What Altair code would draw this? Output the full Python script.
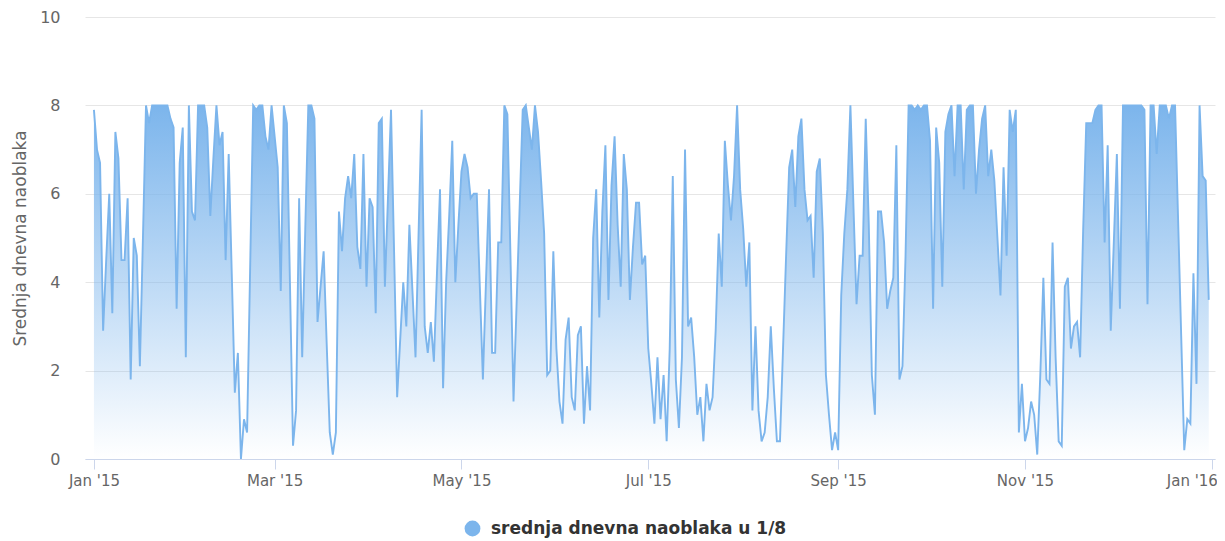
import altair as alt
import pandas as pd

series_name = "srednja dnevna naoblaka u 1/8"
y_title = "Srednja dnevna naoblaka"

dates = pd.date_range("2015-01-01", periods=365, freq="D").strftime("%Y-%m-%d").tolist()

values = [
    7.9, 7.0, 6.7, 2.9, 4.5, 6.0, 3.3, 7.4, 6.8, 4.5,
    4.5, 5.9, 1.8, 5.0, 4.6, 2.1, 5.0, 8.0, 7.6, 8.0,
    8.0, 8.0, 8.0, 8.0, 8.0, 7.7, 7.5, 3.4, 6.7, 7.5,
    2.3, 8.0, 5.6, 5.4, 8.0, 8.0, 8.0, 7.5, 5.5, 6.8,
    8.0, 7.1, 7.4, 4.5, 6.9, 4.2, 1.5, 2.4, 0.0, 0.9,
    0.6, 4.3, 8.0, 7.9, 8.0, 8.0, 7.3, 7.0, 8.0, 7.3,
    6.6, 3.8, 8.0, 7.6, 4.0, 0.3, 1.1, 5.9, 2.3, 5.2,
    8.0, 8.0, 7.7, 3.1, 3.9, 4.7, 2.6, 0.6, 0.1, 0.6,
    5.6, 4.7, 5.9, 6.4, 5.9, 6.9, 4.8, 4.3, 6.9, 3.9,
    5.9, 5.7, 3.3, 7.6, 7.7, 3.9, 5.9, 7.9, 4.7, 1.4,
    2.7, 4.0, 3.0, 5.3, 3.8, 2.3, 5.1, 7.9, 3.0, 2.4,
    3.1, 2.2, 4.2, 6.1, 1.6, 4.0, 5.5, 7.2, 4.0, 5.3,
    6.5, 6.9, 6.6, 5.9, 6.0, 6.0, 3.9, 1.8, 4.0, 6.1,
    2.4, 2.4, 4.9, 4.9, 8.0, 7.8, 4.6, 1.3, 3.5, 5.7,
    7.9, 8.0, 7.5, 7.0, 8.0, 7.4, 6.3, 5.1, 1.9, 2.0,
    4.7, 2.5, 1.3, 0.8, 2.7, 3.2, 1.4, 1.1, 2.8, 3.0,
    0.8, 2.1, 1.1, 5.0, 6.1, 3.2, 5.6, 7.1, 3.6, 6.2,
    7.3, 5.3, 3.9, 6.9, 6.1, 3.6, 4.8, 5.8, 5.8, 4.4,
    4.6, 2.5, 1.7, 0.8, 2.3, 0.9, 1.9, 0.4, 2.5, 6.4,
    1.8, 0.7, 2.3, 7.0, 3.0, 3.2, 2.3, 1.0, 1.4, 0.4,
    1.7, 1.1, 1.4, 2.9, 5.1, 3.9, 7.2, 6.2, 5.4, 6.4,
    8.0, 6.1, 5.2, 3.9, 4.9, 1.1, 3.0, 1.1, 0.4, 0.6,
    1.4, 3.0, 1.6, 0.4, 0.4, 2.5, 4.6, 6.6, 7.0, 5.7,
    7.3, 7.7, 6.1, 5.4, 5.5, 4.1, 6.5, 6.8, 5.1, 1.9,
    1.0, 0.2, 0.6, 0.2, 3.7, 5.1, 6.1, 8.0, 5.7, 3.5,
    4.6, 4.6, 7.7, 5.3, 1.9, 1.0, 5.6, 5.6, 4.9, 3.4,
    3.8, 4.1, 7.1, 1.8, 2.1, 4.6, 8.0, 8.0, 7.9, 8.0,
    7.9, 8.0, 8.0, 7.2, 3.4, 7.5, 6.7, 3.9, 7.4, 7.8,
    8.0, 6.4, 8.0, 8.0, 6.1, 7.9, 8.0, 8.0, 6.0, 7.0,
    7.7, 8.0, 6.4, 7.0, 6.3, 5.0, 3.7, 6.6, 4.6, 7.9,
    7.4, 7.9, 0.6, 1.7, 0.4, 0.7, 1.3, 1.0, 0.1, 1.9,
    4.1, 1.8, 1.7, 4.9, 2.3, 0.4, 0.3, 3.9, 4.1, 2.5,
    3.0, 3.1, 2.3, 5.2, 7.6, 7.6, 7.6, 7.9, 8.0, 8.0,
    4.9, 7.1, 2.9, 4.9, 6.9, 3.4, 8.0, 8.0, 8.0, 8.0,
    8.0, 8.0, 8.0, 7.9, 3.5, 8.0, 8.0, 6.9, 8.0, 8.0,
    8.0, 7.7, 8.0, 8.0, 5.4, 2.8, 0.2, 0.9, 0.8, 4.2,
    1.7, 8.0, 6.4, 6.3, 3.6,
]

tick_months = [(2015, 1), (2015, 3), (2015, 5), (2015, 7), (2015, 9), (2015, 11), (2016, 1)]
y_ticks = [0, 2, 4, 6, 8, 10]

df = pd.DataFrame({"date": dates, "value": values, "series": series_name})

FONT = "DejaVu Sans"
BLUE = "#7cb5ec"

x_enc = alt.X(
    "date:T",
    title=None,
    scale=alt.Scale(
        type="utc",
        domain=[
            alt.DateTime(year=2014, month=12, date=29, hours=2, utc=True),
            alt.DateTime(year=2016, month=1, date=2, hours=1, utc=True),
        ],
    ),
    axis=alt.Axis(
        values=[alt.DateTime(year=y, month=m, date=1, utc=True) for y, m in tick_months],
        labelExpr="utcFormat(datum.value, \"%b '%y\")",
        grid=False,
        domainColor="#ccd6eb",
        tickColor="#ccd6eb",
        tickSize=10,
        labelColor="#666666",
        labelFont=FONT,
        labelFontSize=15,
        labelPadding=4,
        labelFlush=False,
        labelOverlap=False,
        labelOffset={"condition": {"test": "utcyear(datum.value) == 2016", "value": -20}, "value": 0},
    ),
)

y_enc = alt.Y(
    "value:Q",
    title=y_title,
    scale=alt.Scale(domain=[0, 10], nice=False),
    axis=alt.Axis(
        values=y_ticks,
        grid=True,
        gridColor="#e6e6e6",
        domain=False,
        ticks=False,
        labelColor="#666666",
        labelFont=FONT,
        labelFontSize=16,
        labelPadding=25,
        titleColor="#666666",
        titleFont=FONT,
        titleFontSize=17,
        titleFontWeight="normal",
        titlePadding=10,
    ),
)

gradient = alt.Gradient(
    gradient="linear",
    stops=[
        alt.GradientStop(color=BLUE, offset=0),
        alt.GradientStop(color="rgba(124,181,236,0)", offset=1),
    ],
    x1=1, x2=1, y1=0, y2=1,
)

base = alt.Chart(df)

area = base.mark_area(color=gradient, interpolate="linear").encode(x=x_enc, y=y_enc)

line = base.mark_line(strokeWidth=1.9, interpolate="linear").encode(
    x=x_enc,
    y=y_enc,
    stroke=alt.Stroke(
        "series:N",
        scale=alt.Scale(range=[BLUE]),
        legend=alt.Legend(
            title=None,
            orient="none",
            legendX=379,
            legendY=503,
            symbolType="circle",
            symbolFillColor=BLUE,
            symbolStrokeColor=BLUE,
            symbolStrokeWidth=0,
            symbolSize=250,
            labelFont=FONT,
            labelFontSize=17,
            labelFontWeight="bold",
            labelColor="#333333",
            labelOffset=10,
            labelLimit=0,
        ),
    ),
)

chart = (
    alt.layer(area, line)
    .properties(
        width=1130,
        height=442,
        autosize=alt.AutoSizeParams(type="none"),
        padding={"left": 77, "top": 9, "right": 2, "bottom": 81},
        background="white",
    )
    .configure_view(stroke=None)
)

chart.save("out.html", embed_options={"renderer": "svg", "actions": False})
